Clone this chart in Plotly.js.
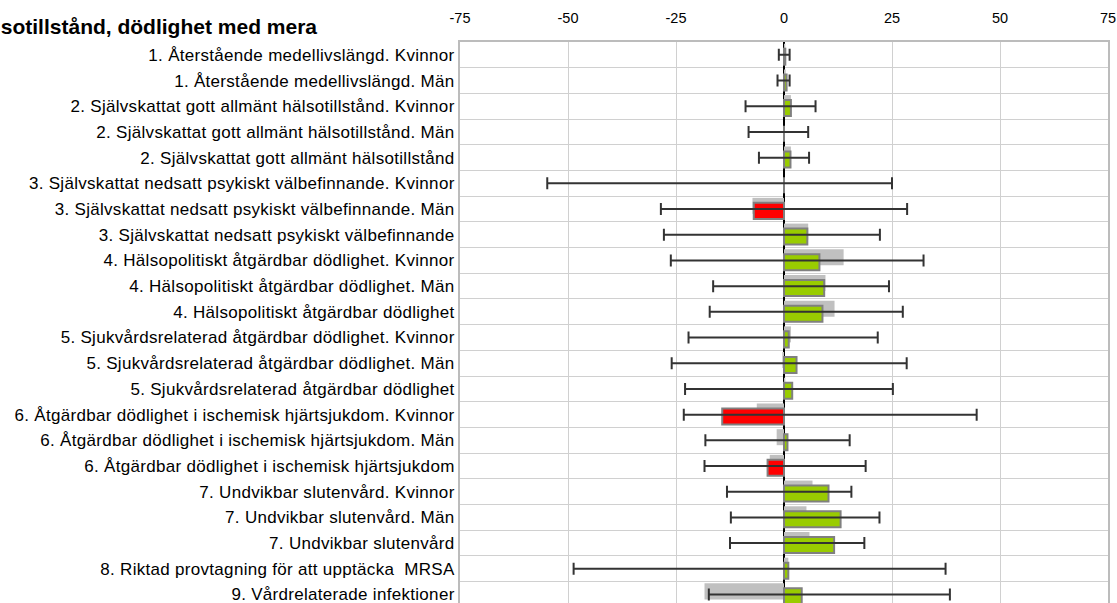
<!DOCTYPE html>
<html>
<head>
<meta charset="utf-8">
<script src="https://cdn.plot.ly/plotly-3.0.1.min.js"></script>
<style>
html,body{margin:0;padding:0;overflow:hidden;background:#fff;}
#chart{width:1117px;height:603px;}
#chart .ytick text{letter-spacing:0.3px;}
</style>
</head>
<body>
<div id="chart"></div>
<script>
// Categories (top to bottom)
const categories = [
  "1. Återstående medellivslängd. Kvinnor",
  "1. Återstående medellivslängd. Män",
  "2. Självskattat gott allmänt hälsotillstånd. Kvinnor",
  "2. Självskattat gott allmänt hälsotillstånd. Män",
  "2. Självskattat gott allmänt hälsotillstånd",
  "3. Självskattat nedsatt psykiskt välbefinnande. Kvinnor",
  "3. Självskattat nedsatt psykiskt välbefinnande. Män",
  "3. Självskattat nedsatt psykiskt välbefinnande",
  "4. Hälsopolitiskt åtgärdbar dödlighet. Kvinnor",
  "4. Hälsopolitiskt åtgärdbar dödlighet. Män",
  "4. Hälsopolitiskt åtgärdbar dödlighet",
  "5. Sjukvårdsrelaterad åtgärdbar dödlighet. Kvinnor",
  "5. Sjukvårdsrelaterad åtgärdbar dödlighet. Män",
  "5. Sjukvårdsrelaterad åtgärdbar dödlighet",
  "6. Åtgärdbar dödlighet i ischemisk hjärtsjukdom. Kvinnor",
  "6. Åtgärdbar dödlighet i ischemisk hjärtsjukdom. Män",
  "6. Åtgärdbar dödlighet i ischemisk hjärtsjukdom",
  "7. Undvikbar slutenvård. Kvinnor",
  "7. Undvikbar slutenvård. Män",
  "7. Undvikbar slutenvård",
  "8. Riktad provtagning för att upptäcka  MRSA",
  "9. Vårdrelaterade infektioner"
];
// Current values (coloured bars)
const currentValues = [0.3, 0.6, 1.6, 0, 1.5, 0, -7.0, 5.4, 8.2, 9.3, 8.9, 1.1, 2.9, 1.9, -14.3, 0.8, -3.8, 10.3, 13.1, 11.6, 1.0, 4.1];
// Previous values (grey bars)
const previousValues = [0.3, 0.4, 1.6, 0, 1.6, 0, -7.3, 5.6, 13.8, 9.6, 11.7, 1.6, -0.4, 0.3, -6.3, -1.7, -3.3, 6.6, 5.2, 5.9, 1.0, -18.4];
// Confidence interval bounds
const lowerBounds = [-1.2, -1.5, -8.9, -8.2, -5.8, -54.8, -28.5, -27.8, -26.2, -16.4, -17.2, -22.1, -26.0, -22.9, -23.2, -18.2, -18.4, -13.2, -12.3, -12.5, -48.7, -17.4];
const upperBounds = [1.3, 1.3, 7.3, 5.6, 5.8, 25.0, 28.5, 22.2, 32.3, 24.3, 27.5, 21.7, 28.4, 25.2, 44.6, 15.2, 18.9, 15.6, 22.1, 18.6, 37.4, 38.4];
const xTicks = [-75, -50, -25, 0, 25, 50, 75];
const xTickLabels = ["-75", "-50", "-25", "0", "25", "50", "75"];
const titleText = "Hälsotillstånd, dödlighet med mera";

const FONT = "Liberation Sans, Arial, sans-serif";
const barColors = currentValues.map(v => v < 0 ? "#ff0000" : "#99cc00");

const traces = [
  {
    type: "bar", orientation: "h",
    x: previousValues, y: categories,
    offset: -0.434, width: 0.623,
    marker: {color: "#c0c0c0", line: {width: 0}},
    hoverinfo: "skip", showlegend: false
  },
  {
    type: "bar", orientation: "h",
    x: currentValues, y: categories,
    offset: -0.24, width: 0.623,
    marker: {color: barColors, line: {color: "#808080", width: 2}},
    hoverinfo: "skip", showlegend: false
  },
  {
    type: "scatter", mode: "markers",
    x: currentValues, y: categories,
    marker: {size: 2, color: "rgba(0,0,0,0)"},
    error_x: {
      type: "data", symmetric: false,
      array: upperBounds.map((h, i) => h - currentValues[i]),
      arrayminus: lowerBounds.map((l, i) => currentValues[i] - l),
      color: "#333333", thickness: 2, width: 6
    },
    hoverinfo: "skip", showlegend: false, cliponaxis: false
  }
];

const layout = {
  width: 1117, height: 603,
  margin: {l: 460, r: 9, t: 42, b: 0, pad: 0},
  paper_bgcolor: "#fff", plot_bgcolor: "#fff",
  barmode: "overlay",
  font: {family: FONT, size: 15, color: "#000"},
  title: {
    text: "<b>" + titleText + "</b>",
    font: {family: FONT, size: 21, color: "#000"},
    xref: "container", x: 317 / 1117, xanchor: "right",
    yref: "container", y: 1 - 27 / 603, yanchor: "middle"
  },
  xaxis: {
    side: "top", range: [-75, 75], tickvals: xTicks, ticktext: xTickLabels,
    showgrid: true, gridcolor: "#d0d0d0", gridwidth: 1,
    showline: true, linecolor: "#bcbcbc", linewidth: 2, mirror: false,
    zeroline: true, zerolinecolor: "#000", zerolinewidth: 1.2,
    ticks: "outside", ticklen: 11, tickcolor: "rgba(0,0,0,0)",
    tickfont: {family: FONT, size: 14.5, color: "#000"}
  },
  yaxis: {
    type: "category", categoryorder: "array", categoryarray: categories,
    range: [21.33, -0.5], autorange: false,
    tickson: "boundaries",
    showgrid: true, gridcolor: "#d0d0d0", gridwidth: 1,
    showline: true, linecolor: "#bcbcbc", linewidth: 2, mirror: true,
    zeroline: false,
    ticks: "outside", ticklen: 11, tickcolor: "rgba(0,0,0,0)",
    tickfont: {family: FONT, size: 17, color: "#000"}
  }
};

Plotly.newPlot("chart", traces, layout, {displayModeBar: false, staticPlot: true});
</script>
</body>
</html>
